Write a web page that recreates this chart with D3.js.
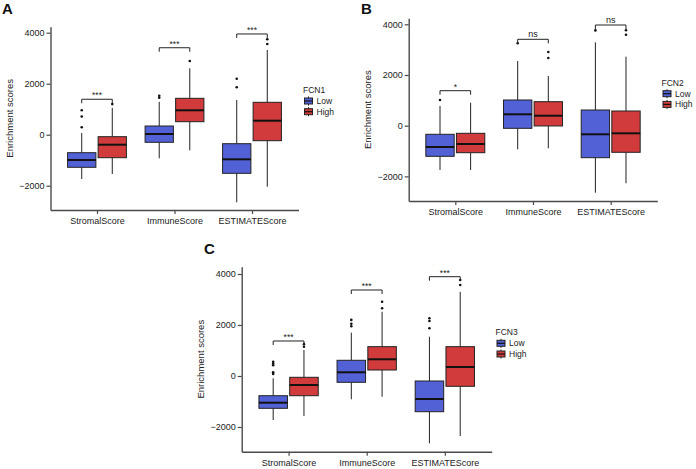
<!DOCTYPE html>
<html><head><meta charset="utf-8">
<script src="https://cdn.jsdelivr.net/npm/d3@7"></script>
<style>
html,body{margin:0;padding:0;background:#fff;}
svg{display:block;font-family:"Liberation Sans",Arial,sans-serif;}
</style></head>
<body>
<svg id="chart" width="696" height="469"></svg>
<script>
// ---------- data ----------
const categories = ["StromalScore", "ImmuneScore", "ESTIMATEScore"];
const groups = ["Low", "High"];
const yTicks = [-2000, 0, 2000, 4000];
const yTitle = "Enrichment scores";

// box stats per category: [lowerWhisker, q1, median, q3, upperWhisker]
const fcn1Low  = [[-1737, -1278, -992, -706, 67], [-925, -298, 27, 341, 1290], [-2651, -1514, -965, -353, 1360]];
const fcn1High = [[-1541, -902, -392, -78, 1050], [-612, 510, 957, 1427, 2604], [-2039, -235, 549, 1271, 3322]];
const fcn1LowOut  = [[290, 714, 957], [1450, 1530], [1859, 2196]];
const fcn1HighOut = [[1200], [2890], [3557, 3741]];
const fcn1Signif  = ["***", "***", "***"];
const fcn1BracketY = [1390, 3410, 3950];

const fcn2Low  = [[-1748, -1207, -840, -339, 777], [-931, -103, 450, 1014, 2552], [-2643, -1262, -339, 619, 3290]];
const fcn2High = [[-1748, -1065, -722, -300, 907], [-891, -10, 394, 947, 1960], [-2272, -1049, -300, 580, 2722]];
const fcn2LowOut  = [[1014], [3250], [3760]];
const fcn2HighOut = [[], [2671, 2907], [3590, 3763]];
const fcn2Signif  = ["*", "ns", "ns"];
const fcn2BracketY = [1381, 3408, 3972];

const fcn3Low  = [[-1725, -1267, -1047, -773, -90], [-914, -247, 145, 616, 1700], [-2640, -1400, -902, -196, 1541]];
const fcn3High = [[-1569, -773, -353, -51, 1020], [-812, 235, 655, 1150, 2520], [-2353, -404, 353, 1150, 3300]];
const fcn3LowOut  = [[80, 150, 420, 490, 560], [1950, 2050, 2200], [1871, 2157, 2262]];
const fcn3HighOut = [[1150, 1250], [2654, 2914], [3569, 3765]];
const fcn3Signif  = ["***", "***", "***"];
const fcn3BracketY = [1373, 3373, 3894];

const colors = {Low: "#5361d6", High: "#d13b3b"};

// ---------- layout ----------
const panels = [
  {label: "A", legendTitle: "FCN1", low: fcn1Low, high: fcn1High, lowOut: fcn1LowOut, highOut: fcn1HighOut,
   signif: fcn1Signif, bracket: fcn1BracketY,
   x0: 50.5, x1: 298.5, yTop: 26.7, yBot: 210, yZero: 134.7, pxPer: 0.0255,
   labelPos: [2, 14], titleX: 9, legend: [303, 90]},
  {label: "B", legendTitle: "FCN2", low: fcn2Low, high: fcn2High, lowOut: fcn2LowOut, highOut: fcn2HighOut,
   signif: fcn2Signif, bracket: fcn2BracketY,
   x0: 408.7, x1: 657.3, yTop: 18.3, yBot: 201, yZero: 125.7, pxPer: 0.02535,
   labelPos: [361, 14], titleX: 367.5, legend: [661.5, 82.7]},
  {label: "C", legendTitle: "FCN3", low: fcn3Low, high: fcn3High, lowOut: fcn3LowOut, highOut: fcn3HighOut,
   signif: fcn3Signif, bracket: fcn3BracketY,
   x0: 241.7, x1: 491.7, yTop: 266.7, yBot: 451.7, yZero: 376, pxPer: 0.0255,
   labelPos: [204, 254], titleX: 200.5, legend: [495.5, 332.3]}
];

const svg = d3.select("#chart");
const axisColor = "#4a4a4a";
const textColor = "#222";

panels.forEach(p => {
  const g = svg.append("g");
  const y = d3.scaleLinear()
    .domain([(p.yZero - p.yBot) / p.pxPer, (p.yZero - p.yTop) / p.pxPer])
    .range([p.yBot, p.yTop]);
  const x = d3.scalePoint().domain(categories).range([p.x0, p.x1]).padding(0.6);
  const step = x.step();
  const off = 0.197 * step, bw = 0.365 * step;

  // axes
  const ya = g.append("g").attr("transform", `translate(${p.x0},0)`)
    .call(d3.axisLeft(y).tickValues(yTicks).tickSize(4).tickSizeOuter(0).tickPadding(2).tickFormat(d => d3.format("d")(d).replace("-", "\u2212")));
  const xa = g.append("g").attr("transform", `translate(0,${p.yBot})`)
    .call(d3.axisBottom(x).tickSize(4).tickSizeOuter(0).tickPadding(3.5));
  [ya, xa].forEach(a => {
    a.select(".domain").attr("stroke", axisColor).attr("stroke-width", 1.4);
    a.selectAll(".tick line").attr("stroke", axisColor).attr("stroke-width", 1.2);
    a.selectAll(".tick text").attr("fill", textColor).attr("font-size", 9)
      .attr("font-family", "Liberation Sans, Arial, sans-serif");
  });

  // y title
  g.append("text")
    .attr("transform", `translate(${p.titleX},${(p.yTop + p.yBot) / 2}) rotate(-90)`)
    .attr("text-anchor", "middle").attr("dominant-baseline", "central")
    .attr("font-size", 9.5).attr("fill", textColor).text(yTitle);

  // panel label
  g.append("text").attr("x", p.labelPos[0]).attr("y", p.labelPos[1])
    .attr("font-size", 15).attr("font-weight", "bold").attr("fill", "#111").text(p.label);

  // boxes
  const series = [
    {grp: "Low", stats: p.low, out: p.lowOut, dx: -off},
    {grp: "High", stats: p.high, out: p.highOut, dx: off}
  ];
  series.forEach(s => {
    categories.forEach((c, i) => {
      const st = s.stats[i];
      const cx = x(c) + s.dx;
      const bg = g.append("g");
      bg.append("line").attr("x1", cx).attr("x2", cx).attr("y1", y(st[3])).attr("y2", y(st[4]))
        .attr("stroke", "#222").attr("stroke-width", 1);
      bg.append("line").attr("x1", cx).attr("x2", cx).attr("y1", y(st[1])).attr("y2", y(st[0]))
        .attr("stroke", "#222").attr("stroke-width", 1);
      bg.append("rect").attr("x", cx - bw / 2).attr("width", bw)
        .attr("y", y(st[3])).attr("height", y(st[1]) - y(st[3]))
        .attr("fill", colors[s.grp]).attr("stroke", "#222").attr("stroke-width", 1);
      bg.append("line").attr("x1", cx - bw / 2).attr("x2", cx + bw / 2)
        .attr("y1", y(st[2])).attr("y2", y(st[2]))
        .attr("stroke", "#111").attr("stroke-width", 2);
      bg.selectAll("circle.o").data(s.out[i]).join("circle").attr("class", "o")
        .attr("cx", cx).attr("cy", d => y(d)).attr("r", 1.3).attr("fill", "#111");
    });
  });

  // significance brackets
  categories.forEach((c, i) => {
    const xl = x(c) - off, xr = x(c) + off, yb = y(p.bracket[i]);
    g.append("path")
      .attr("d", `M${xl},${yb + 4}V${yb}H${xr}V${yb + 4}`)
      .attr("fill", "none").attr("stroke", "#222").attr("stroke-width", 1);
    const isNs = p.signif[i] === "ns";
    g.append("text").attr("x", (xl + xr) / 2).attr("y", yb - (isNs ? 2.5 : 1))
      .attr("text-anchor", "middle").attr("font-size", isNs ? 9 : 8.5)
      .attr("fill", textColor).text(p.signif[i]);
  });

  // legend
  const lg = g.append("g").attr("transform", `translate(${p.legend[0]},${p.legend[1]})`);
  lg.append("text").attr("x", 0).attr("y", 0).attr("dominant-baseline", "central")
    .attr("font-size", 8.5).attr("fill", textColor).text(p.legendTitle);
  groups.forEach((gr, k) => {
    const ky = 11 + k * 10.7;
    const kx = 1.5;
    lg.append("line").attr("x1", kx + 4).attr("x2", kx + 4).attr("y1", ky - 4.5).attr("y2", ky + 4.5)
      .attr("stroke", "#222").attr("stroke-width", 1);
    lg.append("rect").attr("x", kx).attr("y", ky - 3).attr("width", 8).attr("height", 6)
      .attr("fill", colors[gr]).attr("stroke", "#222").attr("stroke-width", 1);
    lg.append("line").attr("x1", kx).attr("x2", kx + 8).attr("y1", ky).attr("y2", ky)
      .attr("stroke", "#111").attr("stroke-width", 1.2);
    lg.append("text").attr("x", 13.5).attr("y", ky).attr("dominant-baseline", "central")
      .attr("font-size", 8.5).attr("fill", textColor).text(gr);
  });
});
</script>
</body></html>
